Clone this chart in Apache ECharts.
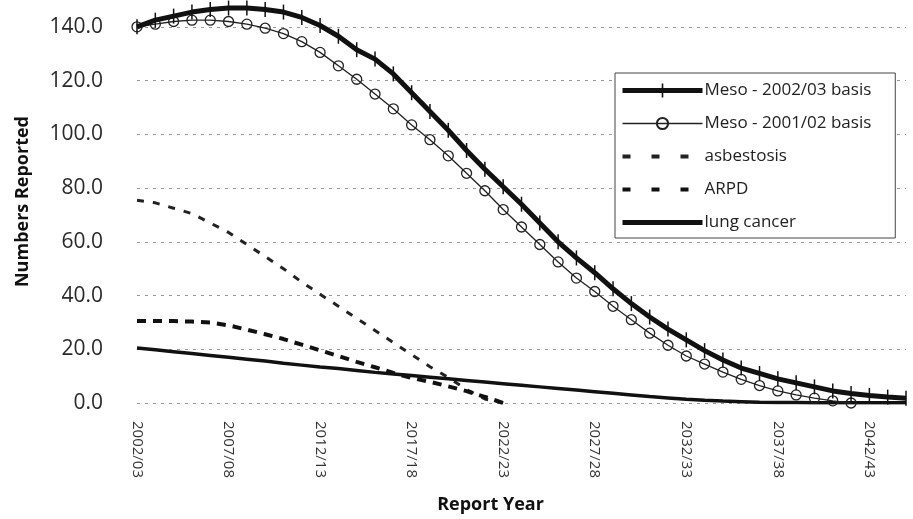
<!DOCTYPE html>
<html>
<head>
<meta charset="utf-8">
<script src="https://cdn.jsdelivr.net/npm/echarts@6/dist/echarts.min.js"></script>
<style>
html,body{margin:0;padding:0;background:#fff;}
#chart{width:913px;height:519px;}
</style>
</head>
<body>
<div id="chart"></div>
<script>
const categories = ['2002/03','2003/04','2004/05','2005/06','2006/07','2007/08','2008/09','2009/10','2010/11','2011/12',
  '2012/13','2013/14','2014/15','2015/16','2016/17','2017/18','2018/19','2019/20','2020/21','2021/22',
  '2022/23','2023/24','2024/25','2025/26','2026/27','2027/28','2028/29','2029/30','2030/31','2031/32',
  '2032/33','2033/34','2034/35','2035/36','2036/37','2037/38','2038/39','2039/40','2040/41','2041/42',
  '2042/43','2043/44','2044/45'];

const meso0203 = [140, 142.5, 144, 145.5, 146.5, 147, 147, 146.5, 145.5, 143.5,
  140.5, 136.5, 131.5, 128, 122.5, 115.5, 108.5, 101.5, 94, 87,
  80.5, 74, 67, 60, 54, 48.5, 42.5, 37, 32, 27.5,
  23.5, 19.5, 16, 13, 11, 9, 7.5, 6, 4.5, 3.5,
  2.8, 2.2, 1.8];

const meso0102 = [140, 141, 142, 142.5, 142.5, 142, 141, 139.5, 137.5, 134.5,
  130.5, 125.5, 120.5, 115, 109.5, 103.5, 98, 92, 85.5, 79,
  72, 65.5, 59, 52.5, 46.5, 41.5, 36, 31, 26, 21.5,
  17.5, 14.5, 11.5, 8.8, 6.5, 4.5, 3, 1.8, 0.8, 0];

const asbestosis = [75.5, 74.5, 72.5, 70.5, 67, 63.5, 59, 54.5, 50, 45,
  40.5, 36, 31.5, 27, 22.5, 18, 13.5, 9.5, 5, 1.5, 0];

const arpd = [30.5, 30.5, 30.5, 30.3, 30, 28.9, 27.3, 25.6, 23.8, 21.7,
  19.6, 17.5, 15.3, 13.3, 11.2, 9.3, 7.9, 6.2, 4.4, 2.3, 0];

const lungCancer = [20.5, 19.8, 19.1, 18.4, 17.7, 17, 16.3, 15.6, 14.8, 14.1,
  13.4, 12.8, 12.1, 11.4, 10.8, 10.2, 9.6, 9.0, 8.4, 7.8,
  7.2, 6.6, 6.0, 5.4, 4.8, 4.2, 3.6, 3.0, 2.4, 1.9,
  1.4, 1.0, 0.7, 0.5, 0.3, 0.2, 0.2, 0.1, 0.1, 0.1,
  0.1, 0.1, 0.1];

const seriesNames = ['Meso - 2002/03 basis', 'Meso - 2001/02 basis', 'asbestosis', 'ARPD', 'lung cancer'];
const yTicks = {min: 0, max: 150, interval: 20};

const FONT = '"Open Sans", sans-serif';
const chart = echarts.init(document.getElementById('chart'), null, {renderer: 'canvas'});

const hidden = {color: 'rgba(0,0,0,0)', borderWidth: 0, opacity: 0};

chart.setOption({
  animation: false,
  backgroundColor: '#fff',
  textStyle: {fontFamily: FONT},
  grid: {left: 137, right: 7, top: 0, bottom: 112, containLabel: false},
  legend: {
    orient: 'vertical',
    left: 615,
    top: 73,
    data: [
      {name: seriesNames[0], icon: 'path://M0,4.5L80,4.5L80,9.5L0,9.5Z M39.2,0L40.8,0L40.8,14L39.2,14Z'},
      {name: seriesNames[1], lineStyle: {width: 1.5, color: '#222'}},
      {name: seriesNames[2], itemStyle: hidden, lineStyle: {width: 4, type: [8, 21], color: '#222'}},
      {name: seriesNames[3], itemStyle: hidden, lineStyle: {width: 4, type: [8, 21], color: '#111'}},
      {name: seriesNames[4], itemStyle: hidden, lineStyle: {width: 5, type: 'solid', color: '#111'}}
    ],
    itemWidth: 80,
    itemHeight: 14,
    itemGap: 16,
    padding: [9, 24, 7, 5],
    backgroundColor: '#fff',
    borderColor: '#444',
    borderWidth: 1,
    textStyle: {fontFamily: FONT, fontSize: 17, color: '#222', padding: [0, 0, 0, -3]}
  },
  xAxis: {
    type: 'category',
    data: categories,
    boundaryGap: false,
    name: 'Report Year',
    nameLocation: 'middle',
    nameGap: 93,
    nameTextStyle: {fontFamily: FONT, fontSize: 18, fontWeight: 'bold', color: '#111', padding: [0, 62, 0, 0]},
    axisLine: {show: false},
    axisTick: {show: false},
    axisLabel: {interval: 4, rotate: -90, margin: 18, fontSize: 15, color: '#333', fontFamily: FONT},
    splitLine: {show: false}
  },
  yAxis: {
    type: 'value',
    min: yTicks.min,
    max: yTicks.max,
    interval: yTicks.interval,
    name: 'Numbers Reported',
    nameLocation: 'middle',
    nameGap: 105,
    nameTextStyle: {fontFamily: FONT, fontSize: 18, fontWeight: 'bold', color: '#111'},
    axisLine: {show: false},
    axisTick: {show: false},
    axisLabel: {
      formatter: v => v.toFixed(1),
      showMaxLabel: false,
      margin: 34,
      fontSize: 21,
      color: '#2a2a2a',
      fontFamily: FONT
    },
    splitLine: {show: true, showMaxLine: false, lineStyle: {color: '#9a9a9a', type: [3, 5], width: 1.2}}
  },
  series: [
    {
      name: seriesNames[0],
      type: 'line',
      data: meso0203,
      z: 5,
      symbol: 'path://M0,0L1,0L1,10L0,10Z',
      symbolKeepAspect: true,
      symbolSize: 15,
      showAllSymbol: true,
      itemStyle: {color: '#111'},
      lineStyle: {color: '#111', width: 5}
    },
    {
      name: seriesNames[1],
      type: 'line',
      data: meso0102,
      z: 4,
      symbol: 'circle',
      symbolSize: 10,
      showAllSymbol: true,
      itemStyle: {color: 'rgba(255,255,255,0)', borderColor: '#222', borderWidth: 1.3},
      lineStyle: {color: '#222', width: 1.3}
    },
    {
      name: seriesNames[2],
      type: 'line',
      data: asbestosis,
      symbol: 'none',
      itemStyle: {color: '#222'},
      lineStyle: {color: '#222', width: 3, type: [7, 9]}
    },
    {
      name: seriesNames[3],
      type: 'line',
      data: arpd,
      symbol: 'none',
      itemStyle: {color: '#111'},
      lineStyle: {color: '#111', width: 4, type: [9, 7]}
    },
    {
      name: seriesNames[4],
      type: 'line',
      data: lungCancer,
      symbol: 'none',
      itemStyle: {color: '#111'},
      lineStyle: {color: '#111', width: 3.5}
    }
  ]
});
</script>
</body>
</html>
